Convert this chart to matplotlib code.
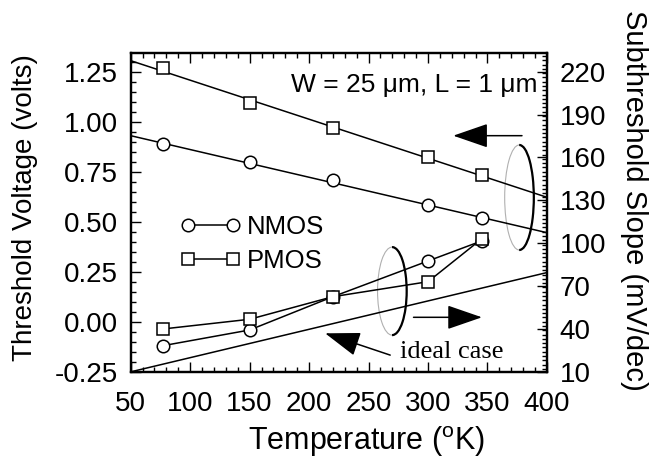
import matplotlib
matplotlib.use('Agg')
import matplotlib.pyplot as plt
from matplotlib.patches import Ellipse, Arc
from matplotlib.ticker import MultipleLocator

plt.rcParams['font.family'] = 'Liberation Sans'
plt.rcParams['mathtext.fontset'] = 'custom'
plt.rcParams['mathtext.rm'] = 'Liberation Sans'

# data
temps = [77, 150, 220, 300, 345]
vt_nmos = [0.888, 0.797, 0.709, 0.585, 0.52]
vt_pmos = [1.27, 1.092, 0.97, 0.825, 0.733]
ss_nmos = [28.2, 39.2, 62.5, 87.5, 101.5]
ss_pmos = [39.9, 46.7, 62.5, 73.0, 102.9]

fit_T = [50, 400]
fit_nmos = [0.93, 0.445]
fit_pmos = [1.305, 0.622]

ideal_T = [50, 400]
ideal_ss = [9.9, 79.4]

vt_ticks = [-0.25, 0.0, 0.25, 0.5, 0.75, 1.0, 1.25]
ss_ticks = [10, 40, 70, 100, 130, 160, 190, 220]
t_ticks = [50, 100, 150, 200, 250, 300, 350, 400]

FS = 20

fig = plt.figure(figsize=(6.59, 4.58), dpi=100)
ax = fig.add_axes([0.1983, 0.1884, 0.6317, 0.6966])
ax2 = ax.twinx()

# threshold voltage: fitted lines + markers
ax.plot(fit_T, fit_pmos, color='black', lw=1.1)
ax.plot(fit_T, fit_nmos, color='black', lw=1.1)
ax.plot(temps, vt_pmos, ls='none', marker='s', ms=8, mfc='white',
        mec='black', mew=1.1)
ax.plot(temps, vt_nmos, ls='none', marker='o', ms=9, mfc='white',
        mec='black', mew=1.1)

# subthreshold slope
ax2.plot(ideal_T, ideal_ss, color='black', lw=1.1)
l_n, = ax2.plot(temps, ss_nmos, color='black', lw=1.1, marker='o', ms=9,
                mfc='white', mec='black', mew=1.1, label='NMOS')
l_p, = ax2.plot(temps, ss_pmos, color='black', lw=1.1, marker='s', ms=8,
                mfc='white', mec='black', mew=1.1, label='PMOS')

ax.set_xlim(50, 400)
ax.set_ylim(-0.25, 1.345)
ax2.set_ylim(10, 233.3)

ax.set_xticks(t_ticks)
ax.set_yticks(vt_ticks)
ax.set_yticklabels(['%.2f' % v for v in vt_ticks])
ax2.set_yticks(ss_ticks)
ax.xaxis.set_minor_locator(MultipleLocator(10))
ax.yaxis.set_minor_locator(MultipleLocator(0.05))
ax2.yaxis.set_minor_locator(MultipleLocator(3))

ax.tick_params(which='both', direction='in', top=True, right=False,
               labelsize=FS, width=1.0)
ax.tick_params(which='major', length=7, pad=9)
ax.tick_params(axis='x', which='major', pad=14)
ax.tick_params(which='minor', length=3.5)
ax2.tick_params(which='both', direction='in', labelsize=FS, width=1.0)
ax2.tick_params(which='major', length=7, pad=9)
ax2.tick_params(which='minor', length=3.5)
for s in ax.spines.values():
    s.set_linewidth(1.6)
for s in ax2.spines.values():
    s.set_linewidth(1.6)

ax.set_xlabel(r'Temperature ($^{\rm o}$K)', fontsize=22)
ax.set_ylabel('Threshold Voltage (volts)', fontsize=FS)
ax2.set_ylabel('Subthreshold Slope (mV/dec)', fontsize=21, rotation=270,
               va='bottom')
ax.xaxis.set_label_coords(0.5676, -0.163)
ax.yaxis.set_label_coords(-0.2227, 0.515)
ax2.yaxis.set_label_coords(1.176, 0.538)

ax.text(392, 1.183, 'W = 25 \u03bcm, L = 1 \u03bcm', fontsize=19,
        ha='right', va='center')

leg = ax2.legend(handles=[l_n, l_p], loc='center left',
                 bbox_to_anchor=(0.12, 0.40), frameon=False,
                 numpoints=2, handlelength=2.35, handletextpad=0.22,
                 borderpad=0, borderaxespad=0, labelspacing=0.36,
                 fontsize=18.5)

# rings around the curve groups
for cx, cy, h in [(376.7, 0.621, 0.525), (269.8, 0.153, 0.44)]:
    ax.add_patch(Ellipse((cx, cy), 24.5, h, fill=False, ec='#b0b0b0',
                         lw=0.8))
    ax.add_patch(Arc((cx, cy), 24.5, h, theta1=-100, theta2=100,
                     color='black', lw=1.6))

arrow = dict(arrowstyle='-|>,head_length=1.1,head_width=0.38',
             color='black', lw=1.1, mutation_scale=20, shrinkA=0, shrinkB=0)
ax.annotate('', xy=(321.2, 0.93), xytext=(379, 0.93), arrowprops=arrow)
ax.annotate('', xy=(345.3, 0.022), xytext=(287.8, 0.022), arrowprops=arrow)
ax.annotate('', xy=(213.5, -0.058), xytext=(268.2, -0.167),
            arrowprops=arrow)
ax.text(276.5, -0.15, 'ideal case', family='Liberation Serif', fontsize=19,
        ha='left', va='center')

fig.savefig('out.png', dpi=100)
